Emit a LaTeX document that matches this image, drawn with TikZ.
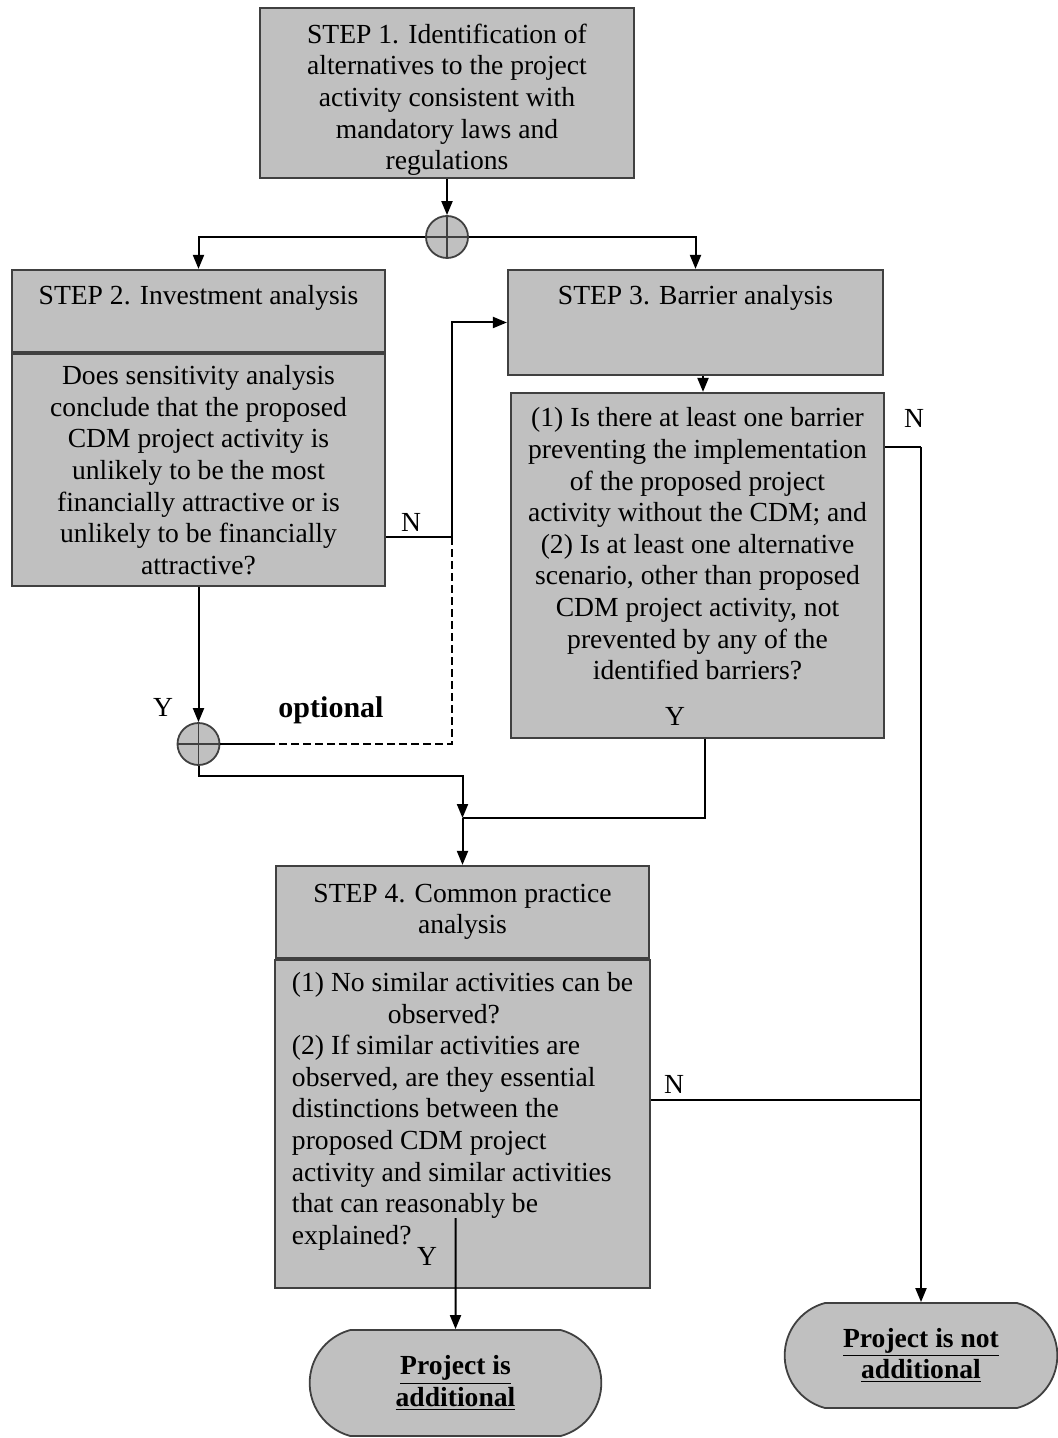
\documentclass[tikz,border=0pt]{standalone}
\usepackage{fontspec}
\setmainfont{Liberation Serif}
\usepackage{xcolor}
\usetikzlibrary{arrows.meta,positioning,shapes.misc}
\definecolor{boxgray}{RGB}{192,192,192}
\definecolor{edgegray}{RGB}{64,64,64}

\begin{document}
\begin{tikzpicture}
                [x=0.5pt, y=-0.5pt, >={Triangle[length=7pt,width=5.5pt]},
                font=\fontsize{13.8}{15.8}\selectfont,
                stepbox/.style={draw=edgegray, fill=boxgray, line width=1.1pt,
                    align=center, inner sep=0pt},
                endbox/.style={rounded rectangle, rounded rectangle arc length=150,
                    draw=edgegray, fill=boxgray, line width=0.9pt, align=center,
                    font=\fontsize{13.8}{15.8}\selectfont\bfseries},
                joint/.style={circle, draw=edgegray, fill=boxgray, line width=0.9pt,
                    minimum size=21pt, inner sep=0pt,
                    path picture={\draw[edgegray, line width=0.8pt]
                        (path picture bounding box.north) -- (path picture bounding box.south)
                        (path picture bounding box.west) -- (path picture bounding box.east);}},
                flow/.style={line width=1pt},
                answer/.style={inner sep=0pt},
                ]
                \useasboundingbox (0,0) rectangle (1058,1438);

                \node[stepbox, minimum width=187pt, minimum height=85pt] (s1) at (447,93)
                    {\rule{0pt}{16.5pt}STEP 1. Identification of\\ alternatives to the project\\
                     activity consistent with\\ mandatory laws and\\ regulations};
                \node[joint] (c1) at (447,237) {};

                \node[stepbox, minimum width=186.5pt, text height=17.5pt, text depth=23.5pt]
                    (s2top) at (198.5,311) {STEP 2. Investment analysis};
                \node[stepbox, minimum width=186.5pt, minimum height=116pt, below=0pt of s2top]
                    (s2q) {Does sensitivity analysis\\ conclude that the proposed\\
                     CDM project activity is\\ unlikely to be the most\\
                     financially attractive or is\\ unlikely to be financially\\ attractive?};
                \node[joint] (c2) at (198.5,744) {};

                \node[stepbox, minimum width=187.5pt, text height=17.5pt, text depth=35pt]
                    (s3top) at (695.5,322.5) {STEP 3. Barrier analysis};
                \node[stepbox, minimum width=186.5pt, minimum height=172.5pt] (s3q) at (697.5,565.5)
                    {(1) Is there at least one barrier\\ preventing the implementation\\
                     of the proposed project\\ activity without the CDM; and\\
                     (2) Is at least one alternative\\ scenario, other than proposed\\
                     CDM project activity, not\\ prevented by any of the\\
                     identified barriers?\\[6pt]\mbox{}};

                \node[stepbox, minimum width=186.5pt, minimum height=46pt] (s4top) at (462.5,912)
                    {STEP 4. Common practice\\ analysis};
                \node[stepbox, minimum width=187.5pt, minimum height=164pt,
                    align=left, below=0pt of s4top] (s4q)
                    {(1) No similar activities can be\\ \hspace*{48pt}observed?\\
                     (2) If similar activities are\\ observed, are they essential\\
                     distinctions between the\\ proposed CDM project\\
                     activity and similar activities\\ that can reasonably be\\
                     explained?\\ \mbox{}};

                \node[endbox, minimum width=152.5pt, minimum height=53pt] (add) at (455.5,1383)
                    {\underline{Project is}\\ \underline{additional}};
                \node[endbox, minimum width=143pt, minimum height=52.5pt] (notadd) at (921,1355.5)
                    {\underline{Project is not}\\ \underline{additional}};

                \node[answer] (n2) at (411,522) {N};
                \node[answer] (n3) at (914,418) {N};
                \node[answer] (n4) at (674,1084) {N};
                \node[answer] (y2) at (163,707) {Y};
                \node[answer] (y3) at (675,716) {Y};
                \node[answer] (y4) at (427,1256) {Y};
                \node[answer, font=\fontsize{15}{18}\selectfont\bfseries] (opt) at (331,710) {optional};

                \coordinate (nturn) at (452,537);
                \coordinate (optturn) at (452,744);
                \coordinate (optend) at (272,744);
                \coordinate (c2low) at (198.5,776);
                \coordinate (merge) at (462.5,818);
                \coordinate (s3turn) at (921,447);
                \coordinate (s4join) at (921,1100);
                \coordinate (yfoot) at (455.5,1218);

                \draw[flow,->] (s1) -- (c1);
                \draw[flow,->] (c1) -| (s2top);
                \draw[flow,->] (c1) -| (s3top);
                \draw[flow,->] (s2q) -- (c2);
                \draw[flow] (s2q.east |- nturn) -- (nturn);
                \draw[flow,->] (nturn) |- (s3top);
                \draw[flow, dash pattern=on 4pt off 2pt] (nturn) -- (optturn) -- (optend);
                \draw[flow] (optend) -- (c2);
                \draw[flow,->] (c2) -- (c2low) -| (merge);
                \draw[flow] ([xshift=3.75pt]s3q.south) |- (merge);
                \draw[flow,->] ([xshift=3.75pt]s3top.south) -- ([xshift=3.75pt]s3top.south |- s3q.north);
                \draw[flow,->] (merge) -- (merge |- s4top.north);
                \draw[flow] (s3q.east |- s3turn) -- (s3turn);
                \draw[flow,->] (s3turn) -- (s3turn |- notadd.north);
                \draw[flow] (s4q.east |- s4join) -- (s4join);
                \draw[flow,->] (yfoot) -- (add);
            \end{tikzpicture}
\end{document}
